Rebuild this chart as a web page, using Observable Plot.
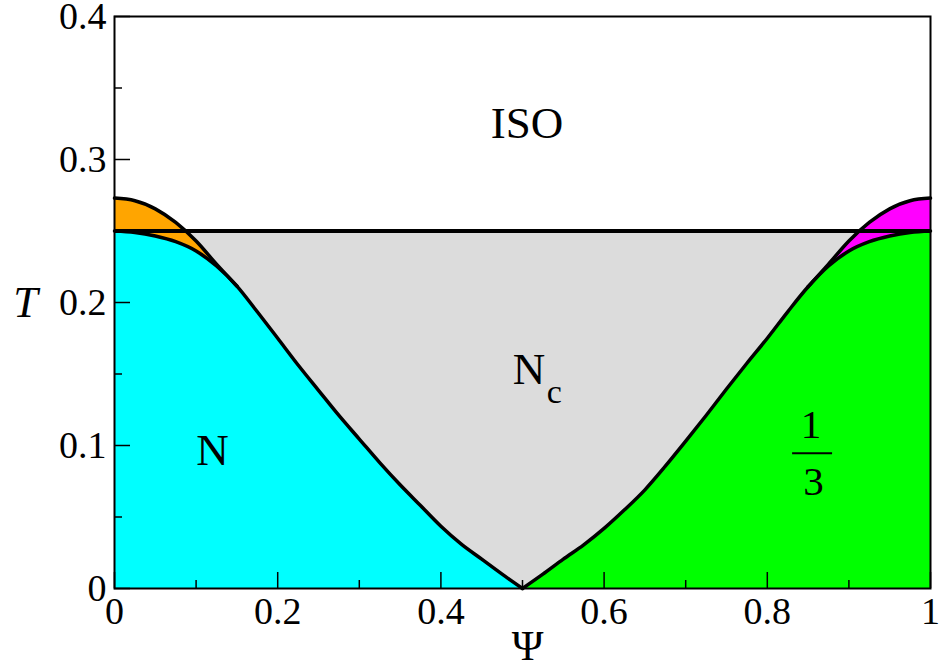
<!DOCTYPE html>
<html>
<head>
<meta charset="utf-8">
<script src="https://cdn.jsdelivr.net/npm/d3@7"></script>
<script src="https://cdn.jsdelivr.net/npm/@observablehq/plot@0.6"></script>
<style>
  html, body { margin: 0; padding: 0; background: #fff; }
</style>
</head>
<body>
<div id="chart"></div>
<script>
// ---- data ----
const isoT = 0.25;

// nematic (N) boundary, left branch
const nX = [0, 0.025, 0.05, 0.075, 0.10, 0.125, 0.15, 0.175, 0.20, 0.225, 0.25, 0.275, 0.30, 0.325, 0.35, 0.375, 0.40, 0.425, 0.45, 0.475, 0.5];
const nT = [0.2500, 0.2490, 0.2465, 0.2425, 0.2360, 0.2255, 0.2115, 0.1935, 0.1750, 0.1563, 0.1386, 0.1210, 0.1045, 0.0880, 0.0725, 0.0580, 0.0435, 0.0310, 0.0205, 0.0100, 0];

// orange region (left)
const orX  = [0, 0.025, 0.05, 0.075, 0.10, 0.125, 0.15];
const orHi = [0.2730, 0.2712, 0.2655, 0.2560, 0.2430, 0.2268, 0.2115];
const orLo = [0.2500, 0.2490, 0.2465, 0.2425, 0.2360, 0.2255, 0.2115];

// "1/3" phase boundary, right branch
const gX = [0.5, 0.525, 0.55, 0.575, 0.6, 0.625, 0.65, 0.675, 0.7, 0.725, 0.75, 0.775, 0.8, 0.825, 0.85, 0.875, 0.9, 0.925, 0.95, 0.975, 1];
const gT = [0, 0.0100, 0.0205, 0.0305, 0.0420, 0.0550, 0.0690, 0.0855, 0.1030, 0.1210, 0.1395, 0.1575, 0.1750, 0.1935, 0.2110, 0.2255, 0.2360, 0.2425, 0.2465, 0.2490, 0.2500];

// magenta region (right)
const mgX  = [0.85, 0.875, 0.9, 0.925, 0.95, 0.975, 1];
const mgHi = [0.2110, 0.2268, 0.2430, 0.2560, 0.2655, 0.2712, 0.2730];
const mgLo = [0.2110, 0.2255, 0.2360, 0.2425, 0.2465, 0.2490, 0.2500];

// ticks
const xTickValues = [0, 0.2, 0.4, 0.6, 0.8, 1];
const xTickLabels = ["0", "0.2", "0.4", "0.6", "0.8", "1"];
const xMinor = [0.1, 0.3, 0.5, 0.7, 0.9];
const yTickValues = [0, 0.1, 0.2, 0.3, 0.4];
const yTickLabels = ["0", "0.1", "0.2", "0.3", "0.4"];
const yMinor = [0.05, 0.15, 0.25, 0.35];

// region labels
const labels = [
  {text: "ISO", x: 0.5055, y: 0.3248, size: 45},
  {text: "N",   x: 0.120,  y: 0.0962, size: 45},
  {text: "N",   x: 0.508,  y: 0.1531, size: 45},
  {text: "c",   x: 0.539,  y: 0.1374, size: 34},
  {text: "1",   x: 0.8536, y: 0.1147, size: 41},
  {text: "3",   x: 0.8566, y: 0.0748, size: 41}
];
const fracBar = {x1: 0.831, x2: 0.880, y: 0.0946};

// ---- tables ----
const nTable = nX.map((x, i) => ({x, t: nT[i]}));
const gTable = gX.map((x, i) => ({x, t: gT[i]}));
const orTable = orX.map((x, i) => ({x, lo: orLo[i], hi: orHi[i]}));
const mgTable = mgX.map((x, i) => ({x, lo: mgLo[i], hi: mgHi[i]}));
const ncTable = [{x: 0, lo: 0, hi: isoT}, {x: 1, lo: 0, hi: isoT}];
const xTickTable = xTickValues.map((v, i) => ({v, label: xTickLabels[i]}));
const yTickTable = yTickValues.map((v, i) => ({v, label: yTickLabels[i]}));

const W = 939, H = 669;
const mL = 114, mR = 9, mT = 16, mB = 81;
const fw = W - mL - mR, fh = H - mT - mB;
const font = "Liberation Serif, serif";
const curve = "monotone-x";

const plot = Plot.plot({
  width: W, height: H,
  marginLeft: mL, marginRight: mR, marginTop: mT, marginBottom: mB,
  x: {domain: [0, 1], axis: null},
  y: {domain: [0, 0.4], axis: null},
  style: {fontFamily: font, fontSize: "38px", background: "white", overflow: "visible"},
  marks: [
    Plot.areaY(ncTable, {x: "x", y1: "lo", y2: "hi", fill: "#dcdcdc"}),
    Plot.areaY(orTable, {x: "x", y1: "lo", y2: "hi", fill: "#ffa500", curve}),
    Plot.areaY(mgTable, {x: "x", y1: "lo", y2: "hi", fill: "#ff00ff", curve}),
    Plot.areaY(nTable, {x: "x", y: "t", fill: "#00ffff", curve}),
    Plot.areaY(gTable, {x: "x", y: "t", fill: "#00ff00", curve}),
    Plot.line(orTable, {x: "x", y: "hi", stroke: "black", strokeWidth: 3.5, curve, strokeLinejoin: "round"}),
    Plot.line(mgTable, {x: "x", y: "hi", stroke: "black", strokeWidth: 3.5, curve, strokeLinejoin: "round"}),
    Plot.line(nTable, {x: "x", y: "t", stroke: "black", strokeWidth: 3.5, curve, strokeLinejoin: "round"}),
    Plot.line(gTable, {x: "x", y: "t", stroke: "black", strokeWidth: 3.5, curve, strokeLinejoin: "round"}),
    Plot.ruleY([isoT], {stroke: "black", strokeWidth: 4}),
    Plot.frame({stroke: "black", strokeWidth: 2}),
    Plot.tickX(xTickValues, {x: d => d, stroke: "black", strokeWidth: 1.5, insetTop: fh - 16}),
    Plot.tickX(xMinor, {x: d => d, stroke: "black", strokeWidth: 1.5, insetTop: fh - 8}),
    Plot.tickY(yTickValues, {y: d => d, stroke: "black", strokeWidth: 1.5, insetRight: fw - 16}),
    Plot.tickY(yMinor, {y: d => d, stroke: "black", strokeWidth: 1.5, insetRight: fw - 8}),
    // tick labels
    Plot.text(xTickTable, {x: "v", text: "label", frameAnchor: "bottom", lineAnchor: "top", textAnchor: "middle", dy: 9, fontSize: 38, fontFamily: font, fill: "black"}),
    Plot.text(yTickTable, {y: "v", text: "label", frameAnchor: "left", lineAnchor: "middle", textAnchor: "end", dx: -8, fontSize: 38, fontFamily: font, fill: "black"}),
    // region labels
    Plot.text(labels, {x: "x", y: "y", text: "text", fontSize: d => d.size, fontFamily: font, fill: "black", lineAnchor: "middle"}),
    Plot.ruleY([fracBar], {y: "y", x1: "x1", x2: "x2", stroke: "black", strokeWidth: 2}),
    // axis titles
    Plot.text(["T"], {text: d => d, frameAnchor: "left", lineAnchor: "middle", textAnchor: "middle", dx: -89, fontSize: 44, fontStyle: "italic", fontFamily: font, fill: "black"}),
    Plot.text(["Ψ"], {text: d => d, frameAnchor: "bottom", lineAnchor: "middle", textAnchor: "middle", dx: 5, dy: 58, fontSize: 43, fontFamily: font, fill: "black"})
  ]
});
document.getElementById("chart").appendChild(plot);
</script>
</body>
</html>
